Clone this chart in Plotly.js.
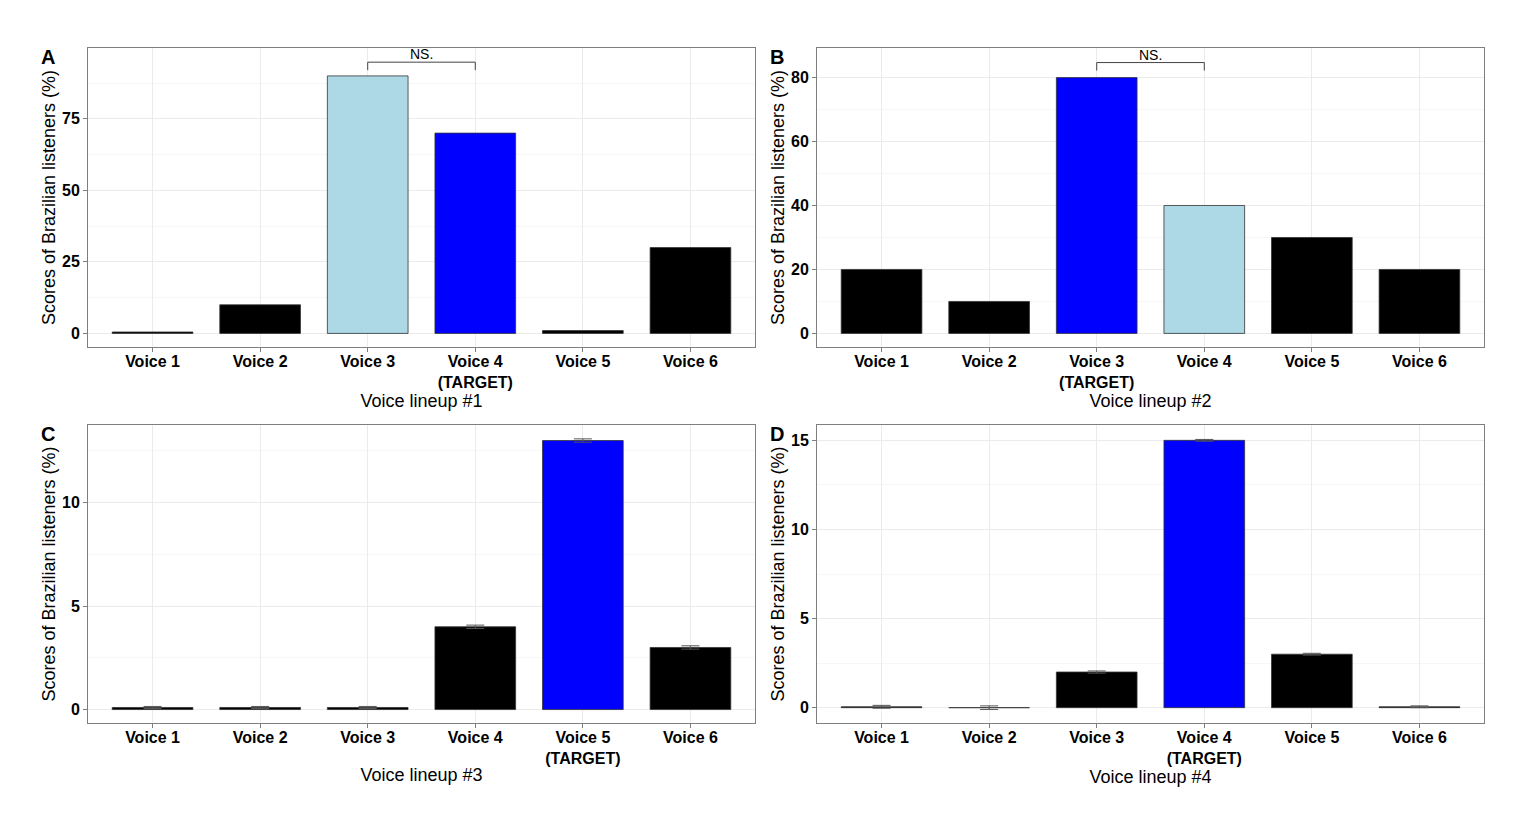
<!DOCTYPE html>
<html><head><meta charset="utf-8">
<script src="https://cdn.plot.ly/plotly-3.0.1.min.js"></script>
<style>html,body{margin:0;padding:0;background:#fff}#chart{width:1530px;height:820px}</style>
</head><body><div id="chart"></div>
<script>
// ---- data ----
const labelsA = ['Voice 1','Voice 2','Voice 3','Voice 4<br>(TARGET)','Voice 5','Voice 6'];
const labelsB = ['Voice 1','Voice 2','Voice 3<br>(TARGET)','Voice 4','Voice 5','Voice 6'];
const labelsC = ['Voice 1','Voice 2','Voice 3','Voice 4','Voice 5<br>(TARGET)','Voice 6'];
const labelsD = ['Voice 1','Voice 2','Voice 3','Voice 4<br>(TARGET)','Voice 5','Voice 6'];
const scoresA = [0.5, 10, 90, 70, 1, 30];
const scoresB = [20, 10, 80, 40, 30, 20];
const scoresC = [0.1, 0.1, 0.1, 4, 13, 3];
const scoresD = [0.05, 0, 2, 15, 3, 0.05];
const errA = null;
const errB = null;
const errC = [0.05, 0.05, 0.05, 0.08, 0.08, 0.08];
const errD = [0.08, 0.1, 0.06, 0.05, 0.05, 0.05];
const lineupTitles = ['Voice lineup #1','Voice lineup #2','Voice lineup #3','Voice lineup #4'];
const panelLetters = ['A','B','C','D'];
const yTitle = 'Scores of Brazilian listeners (%)';
const bracketA = {from: 'Voice 3', to: 'Voice 4<br>(TARGET)', y: 94.8, tickBottom: 92, label: 'NS.'};
const bracketB = {from: 'Voice 3<br>(TARGET)', to: 'Voice 4', y: 84.7, tickBottom: 82.2, label: 'NS.'};

// ---- styles ----
const BLACK = '#000000', LIGHT = '#ADD8E6', BLUE = '#0000FF';
const colorsA = [BLACK, BLACK, LIGHT, BLUE, BLACK, BLACK];
const colorsB = [BLACK, BLACK, BLUE, LIGHT, BLACK, BLACK];
const colorsC = [BLACK, BLACK, BLACK, BLACK, BLUE, BLACK];
const colorsD = [BLACK, BLACK, BLACK, BLUE, BLACK, BLACK];

const panels = [
  {labels: labelsA, scores: scoresA, err: errA, colors: colorsA, yrange: [-4.75, 99.75], dtick: 25},
  {labels: labelsB, scores: scoresB, err: errB, colors: colorsB, yrange: [-4.25, 89.25], dtick: 20},
  {labels: labelsC, scores: scoresC, err: errC, colors: colorsC, yrange: [-0.65, 13.75], dtick: 5},
  {labels: labelsD, scores: scoresD, err: errD, colors: colorsD, yrange: [-0.86, 15.86], dtick: 5}
];
const W = 1530, H = 820;
const xDom = [[88/W, 755/W], [817/W, 1484/W], [88/W, 755/W], [817/W, 1484/W]];
const yDom = [[(H-347)/H, (H-48)/H], [(H-347)/H, (H-48)/H], [(H-723)/H, (H-425)/H], [(H-723)/H, (H-425)/H]];
const FONT = 'Liberation Sans, Arial, sans-serif';

const traces = [];
const layout = {
  width: W, height: H,
  margin: {l: 0, r: 0, t: 0, b: 0},
  paper_bgcolor: '#fff', plot_bgcolor: '#fff',
  showlegend: false,
  font: {family: FONT, color: '#000'},
  shapes: [], annotations: []
};

panels.forEach((p, i) => {
  const n = i === 0 ? '' : String(i + 1);
  const tr = {
    type: 'bar', x: p.labels, y: p.scores,
    xaxis: 'x' + n, yaxis: 'y' + n,
    width: 0.75,
    marker: {color: p.colors, line: {color: '#333333', width: 0.8}},
    hoverinfo: 'x+y'
  };
  if (p.err) tr.error_y = {type: 'data', array: p.err, visible: true, color: '#555555', thickness: 1, width: 9};
  traces.push(tr);
  layout['xaxis' + n] = {
    domain: xDom[i], anchor: 'y' + n, type: 'category',
    range: [-0.6, 5.6],
    showline: true, mirror: true, linecolor: '#7f7f7f', linewidth: 1,
    showgrid: true, gridcolor: '#EBEBEB', gridwidth: 1,
    ticks: 'outside', ticklen: 4, tickcolor: '#7f7f7f',
    ticklabelstandoff: -4,
    tickfont: {family: FONT, size: 16, weight: 'bold', color: '#000'},
    title: {text: lineupTitles[i], font: {family: FONT, size: 18, color: '#000'}, standoff: 2},
    zeroline: false, fixedrange: true
  };
  layout['yaxis' + n] = {
    domain: yDom[i], anchor: 'x' + n,
    range: p.yrange, tickmode: 'linear', tick0: 0, dtick: p.dtick,
    showline: true, mirror: true, linecolor: '#7f7f7f', linewidth: 1,
    showgrid: true, gridcolor: '#EBEBEB', gridwidth: 1,
    minor: {tick0: 0, dtick: p.dtick / 2, showgrid: true, gridcolor: '#F2F2F2', gridwidth: 0.6},
    ticks: 'outside', ticklen: 4, tickcolor: '#7f7f7f',
    tickfont: {family: FONT, size: 16, weight: 'bold', color: '#000'},
    title: {text: yTitle, font: {family: FONT, size: 18, color: '#000'}, standoff: 1},
    zeroline: false, fixedrange: true
  };
  layout.annotations.push({
    xref: 'paper', yref: 'paper',
    x: (i % 2 === 0 ? 39 : 768) / W, y: (H - (i < 2 ? 57 : 434)) / H,
    xanchor: 'left', yanchor: 'middle',
    text: '<b>' + panelLetters[i] + '</b>', showarrow: false,
    font: {family: FONT, size: 20, color: '#000'}
  });
});

function addBracket(b, labels, n) {
  const x0 = labels.indexOf(b.from), x1 = labels.indexOf(b.to);
  const xr = 'x' + n, yr = 'y' + n;
  const ln = {color: '#444444', width: 1};
  layout.shapes.push({type: 'line', xref: xr, yref: yr, x0: x0, x1: x1, y0: b.y, y1: b.y, line: ln});
  layout.shapes.push({type: 'line', xref: xr, yref: yr, x0: x0, x1: x0, y0: b.tickBottom, y1: b.y, line: ln});
  layout.shapes.push({type: 'line', xref: xr, yref: yr, x0: x1, x1: x1, y0: b.tickBottom, y1: b.y, line: ln});
  layout.annotations.push({
    xref: xr, yref: yr, x: (x0 + x1) / 2, y: b.y, yanchor: 'bottom',
    text: b.label, showarrow: false, yshift: -2,
    font: {family: FONT, size: 14, color: '#000'}
  });
}
addBracket(bracketA, labelsA, '');
addBracket(bracketB, labelsB, '2');

Plotly.newPlot('chart', traces, layout, {displayModeBar: false, staticPlot: true});
</script>
</body></html>
